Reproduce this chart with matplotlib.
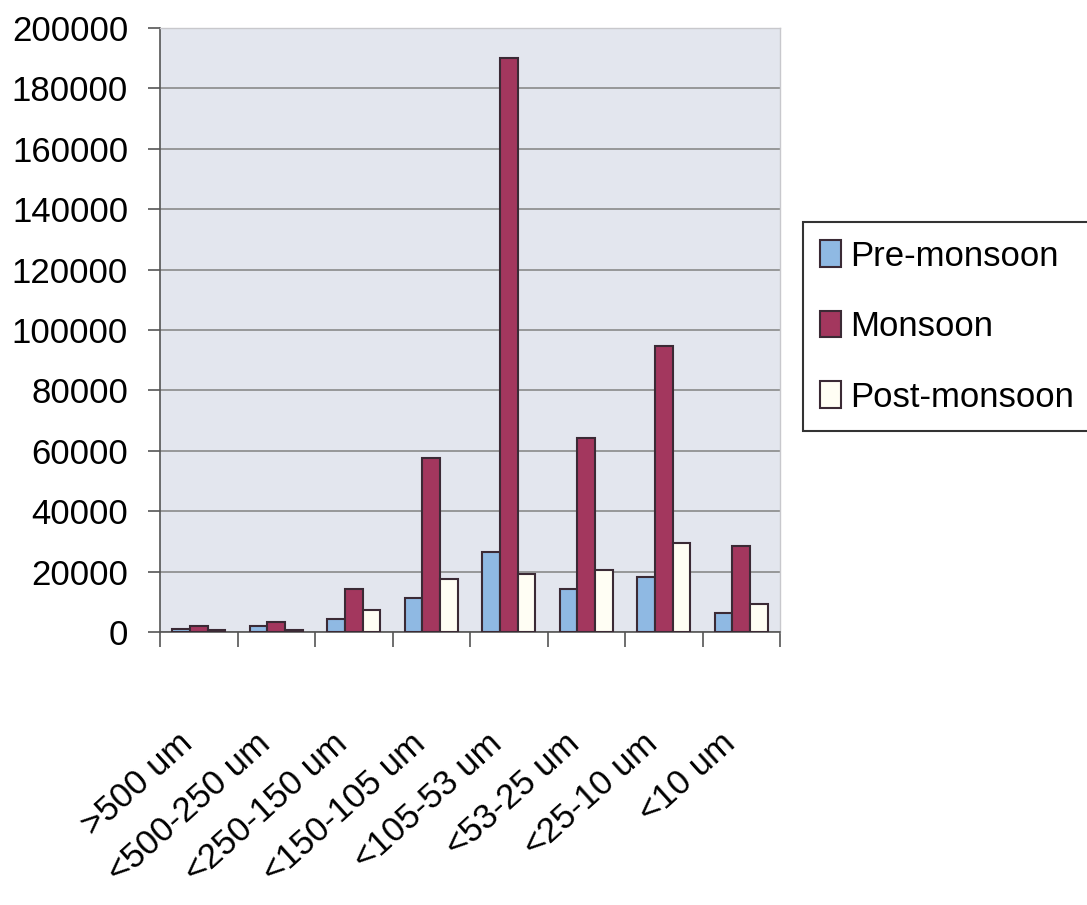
import matplotlib.pyplot as plt
import numpy as np

plt.rcParams['font.family'] = ['Liberation Sans', 'DejaVu Sans']

categories = [">500 um", "<500-250 um", "<250-150 um", "<150-105 um",
              "<105-53 um", "<53-25 um", "<25-10 um", "<10 um"]
pre_monsoon = [900, 2000, 4300, 11300, 26600, 14100, 18300, 6200]
monsoon = [2000, 3300, 14200, 57500, 190000, 64100, 94700, 28600]
post_monsoon = [700, 800, 7300, 17500, 19200, 20500, 29600, 9300]
yticks = list(range(0, 200001, 20000))

fig = plt.figure(figsize=(10.87, 9.05), dpi=100)
ax = fig.add_axes([160 / 1087, 273 / 905, 620 / 1087, 604 / 905])
ax.set_facecolor("#e3e6ee")

x = np.arange(len(categories))
w = 0.23
edge = "#3b2a35"
ax.bar(x - w, pre_monsoon, w, color="#8fb9e3", edgecolor=edge, linewidth=1.5, label="Pre-monsoon", zorder=3)
ax.bar(x, monsoon, w, color="#a3375e", edgecolor=edge, linewidth=1.5, label="Monsoon", zorder=3)
ax.bar(x + w, post_monsoon, w, color="#fffef4", edgecolor=edge, linewidth=1.5, label="Post-monsoon", zorder=3)

ax.set_xlim(-0.5, len(categories) - 0.5)
ax.set_ylim(0, 200000)
ax.set_yticks(yticks)
ax.set_yticklabels([str(v) for v in yticks], fontsize=25)
ax.yaxis.grid(True, color="#8a8a8a", linewidth=1.2, zorder=0)
ax.tick_params(axis="y", length=9, width=1.2, color="#555555", pad=14)

ax.set_xticks(x)
ax.set_xticklabels(categories, fontsize=25, rotation=42, ha="right", va="top")
ax.tick_params(axis="x", which="major", length=0, pad=68)
ax.set_xticks(np.arange(-0.5, len(categories)), minor=True)
ax.tick_params(axis="x", which="minor", length=11, width=1.2, color="#555555")

for s in ["left", "bottom"]:
    ax.spines[s].set_color("#555555")
    ax.spines[s].set_linewidth(1.2)
for s in ["top", "right"]:
    ax.spines[s].set_color("#c8c8cc")
    ax.spines[s].set_linewidth(1.0)

leg = fig.legend(loc="center left", bbox_to_anchor=(803 / 1087, 0.639), fontsize=25,
                 frameon=True, fancybox=False, edgecolor="black",
                 handlelength=0.6, handleheight=0.8, handletextpad=0.25,
                 labelspacing=1.08, borderpad=0.5, borderaxespad=0)
leg.get_frame().set_linewidth(1.5)

fig.savefig("out.png", dpi=100)
